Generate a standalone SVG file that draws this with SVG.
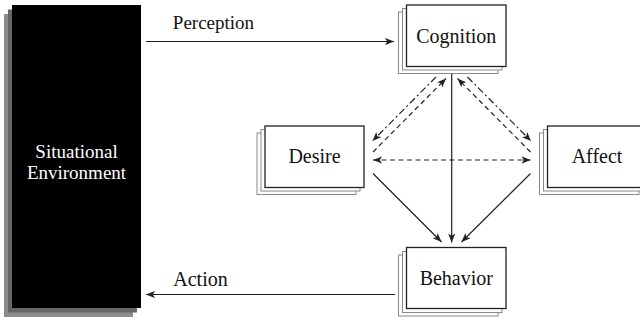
<svg xmlns="http://www.w3.org/2000/svg" width="640" height="320" viewBox="0 0 640 320">
<style>
text{font-family:"Liberation Serif","Times New Roman",serif;font-size:20px;fill:#111;text-anchor:middle}
.w{fill:#fff;font-size:19px}
.back{fill:#fff;stroke:#8a8a8a;stroke-width:1}
.front{fill:#fff;stroke:#222;stroke-width:1.3}
.c{stroke:#222;stroke-width:1.2;fill:none}
.dash{stroke-dasharray:5,3.5}
.dd{stroke-dasharray:7,3,2,3}
</style>
<defs>
<marker id="ah" viewBox="0 0 10 8" refX="10" refY="4" markerWidth="9" markerHeight="7.5" markerUnits="userSpaceOnUse" orient="auto-start-reverse">
<path d="M0,0 L10,4 L0,8 L2.5,4 z" fill="#222"/>
</marker>
</defs>
<rect width="640" height="320" fill="#fff"/>
<g id="situational-environment">
<rect x="4" y="14" width="129" height="303" fill="#8c8c8c"/>
<rect x="8" y="9.5" width="129" height="303" fill="#666"/>
<rect x="12" y="5" width="129" height="303" fill="#000"/>
<text class="w" x="76.5" y="158">Situational</text>
<text class="w" x="76.5" y="179">Environment</text>
</g>
<g id="cognition">
<rect class="back" x="398.5" y="12" width="99.5" height="61.5"/>
<rect class="back" x="402.5" y="8.5" width="99.5" height="61.5"/>
<rect class="front" x="406.5" y="5" width="99.5" height="61.5"/>
<text x="456.3" y="42.5">Cognition</text>
</g>
<g id="desire">
<rect class="back" x="257" y="133" width="99" height="61.5"/>
<rect class="back" x="261" y="129.5" width="99" height="61.5"/>
<rect class="front" x="265" y="126" width="99" height="61.5"/>
<text x="314.5" y="162.5">Desire</text>
</g>
<g id="affect">
<rect class="back" x="539.5" y="133" width="99.5" height="61.5"/>
<rect class="back" x="543.5" y="129.5" width="99.5" height="61.5"/>
<rect class="front" x="547.5" y="126" width="99.5" height="61.5"/>
<text x="597" y="162.5">Affect</text>
</g>
<g id="behavior">
<rect class="back" x="398.5" y="255" width="99.5" height="61"/>
<rect class="back" x="402.5" y="251.5" width="99.5" height="61"/>
<rect class="front" x="406.5" y="247.5" width="99.5" height="61"/>
<text x="456.3" y="284.5">Behavior</text>
</g>
<g id="connectors">
<line class="c" x1="146" y1="41.5" x2="394" y2="41.5" marker-end="url(#ah)"/>
<text x="213.5" y="28.5" style="font-size:19px">Perception</text>
<line class="c" x1="395" y1="294.5" x2="146" y2="294.5" marker-end="url(#ah)"/>
<text x="200.5" y="286">Action</text>
<line class="c" x1="451.7" y1="74" x2="451.7" y2="242.5" marker-end="url(#ah)"/>
<line class="c" x1="373" y1="173.5" x2="441.5" y2="242" marker-end="url(#ah)"/>
<line class="c" x1="530.5" y1="173.5" x2="461.5" y2="242" marker-end="url(#ah)"/>
<line class="c dash" x1="373" y1="160" x2="530.5" y2="160" marker-start="url(#ah)" marker-end="url(#ah)"/>
<line class="c dd" x1="436" y1="77" x2="372.5" y2="141" marker-end="url(#ah)"/>
<line class="c dash" x1="373" y1="152" x2="446" y2="78.5" marker-end="url(#ah)"/>
<line class="c dd" x1="467.5" y1="77" x2="531" y2="141" marker-end="url(#ah)"/>
<line class="c dash" x1="530.5" y1="152" x2="457.5" y2="78.5" marker-end="url(#ah)"/>
</g>
</svg>
